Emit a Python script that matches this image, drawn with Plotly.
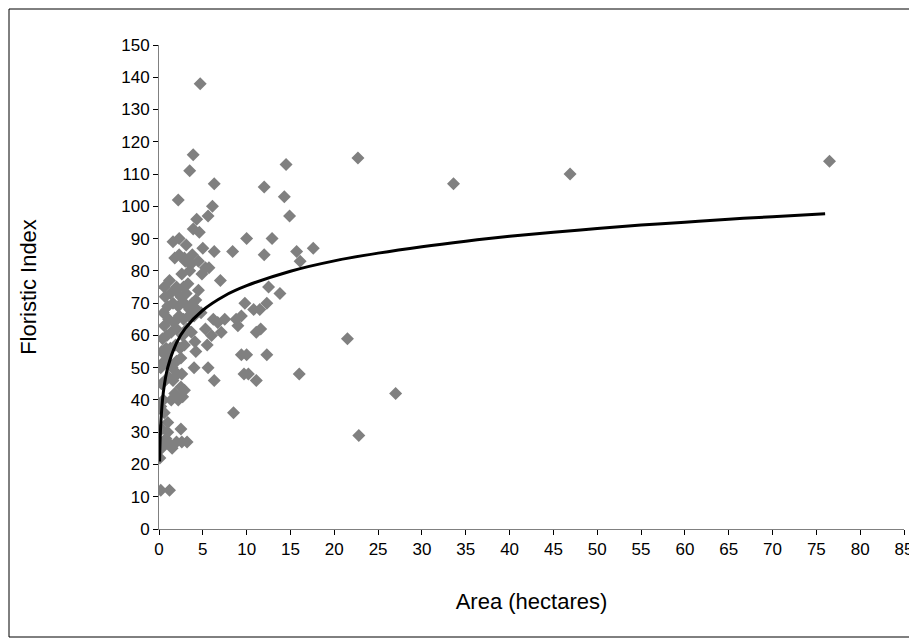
import plotly.graph_objects as go

# Observed sites: area (hectares) and floristic index
area = [4.7, 3.9, 3.5, 6.3, 2.2, 6.1, 5.6, 4.3, 3.9, 4.6, 1.6, 2.3, 3.1, 3.8, 5.0, 6.3, 8.4, 4.5, 2.9, 3.6,
        10.0, 12.9, 12.0, 14.5, 14.3, 14.9, 12.0, 15.7, 16.1, 17.6, 22.7, 33.6, 46.9, 76.5,
        12.5, 13.8, 12.3, 10.8, 11.5, 9.8, 9.4, 9.0, 11.1, 11.6, 12.3, 10.0, 9.4, 9.7, 10.2, 11.1,
        7.0, 7.5, 8.8, 7.1, 6.7, 6.0, 6.2, 6.3, 5.6, 5.5, 5.3, 4.8, 4.5, 4.9, 5.3, 5.7,
        4.0, 4.2, 4.1, 3.7, 8.5, 21.5, 16.0, 27.0, 22.8, 0.2, 1.2,
        0.1, 0.3, 0.5, 0.8, 1.3, 1.5, 2.0, 2.6, 3.2, 1.0, 2.5, 0.3, 1.0, 0.6, 0.2, 0.5, 1.4, 1.8,
        2.2, 2.7, 2.5, 2.9, 0.3, 0.7, 1.1, 1.6, 2.1, 2.6, 0.2, 0.6, 1.0, 1.5, 2.0, 2.5, 0.3, 0.8,
        1.3, 1.9, 2.4, 2.9, 0.4, 0.9, 1.4, 2.0, 2.7, 3.2, 0.6, 1.1, 1.7, 2.3, 2.8, 3.4, 0.5, 1.0,
        1.6, 2.2, 2.9, 3.5, 0.7, 1.3, 1.9, 2.5, 3.1, 0.6, 2.0, 2.8, 3.3, 1.2, 2.6, 3.5, 3.0, 2.3,
        1.8, 3.4, 0.9, 4.3, 4.0, 3.8, 4.2]
floristic_index = [138, 116, 111, 107, 102, 100, 97, 96, 93, 92, 89, 90, 88, 85, 87, 86, 86, 83, 84, 82,
                   90, 90, 106, 113, 103, 97, 85, 86, 83, 87, 115, 107, 110, 114,
                   75, 73, 70, 68, 68, 70, 66, 63, 61, 62, 54, 54, 54, 48, 48, 46,
                   77, 65, 65, 61, 64, 60, 65, 46, 50, 57, 62, 67, 74, 79, 81, 81,
                   50, 55, 58, 61, 36, 59, 48, 42, 29, 12, 12,
                   22, 25, 27, 28, 26, 25, 27, 27, 27, 30, 31, 31, 33, 36, 38, 40, 40, 42,
                   40, 41, 44, 43, 45, 46, 47, 46, 48, 48, 50, 52, 51, 50, 52, 53, 55, 56,
                   56, 57, 56, 57, 59, 60, 61, 62, 60, 62, 63, 65, 64, 66, 65, 66, 67, 69,
                   70, 69, 70, 68, 72, 73, 74, 72, 73, 75, 75, 75, 76, 77, 79, 80, 83, 85,
                   84, 83, 54, 68, 66, 70, 71]

# Logarithmic trend line
trend_area = [0.07, 0.2, 0.5, 1, 2, 3, 5, 7.5, 10, 15, 20, 25, 30, 35, 40, 45, 50, 55, 60, 65, 70, 76]
trend_index = [20.9, 32.4, 42.5, 50.1, 57.7, 62.2, 67.8, 72.3, 75.4, 79.9, 83.1, 85.5, 87.5, 89.2,
               90.7, 92.0, 93.1, 94.2, 95.1, 96.0, 96.8, 97.7]

x_ticks = list(range(0, 86, 5))
y_ticks = list(range(0, 151, 10))

fig = go.Figure()
fig.add_trace(go.Scatter(
    x=area, y=floristic_index, mode="markers",
    marker=dict(symbol="diamond", size=10, color="#808080", line=dict(width=0)),
    showlegend=False, hoverinfo="x+y"))
fig.add_trace(go.Scatter(
    x=trend_area, y=trend_index, mode="lines",
    line=dict(color="black", width=3, shape="spline"),
    showlegend=False))

font = "Liberation Sans, Arial, sans-serif"
L, R, T, B = 151, 21, 37, 120
W, H = 917, 641
pw, ph = W - L - R, H - T - B
fig.update_layout(
    width=W, height=H,
    margin=dict(l=L, r=R, t=T, b=B),
    paper_bgcolor="white", plot_bgcolor="white",
    font=dict(family=font, size=17, color="black"),
    xaxis=dict(range=[0, 85], tickvals=x_ticks, showgrid=False, zeroline=False,
               showline=True, linecolor="#808080", linewidth=1,
               ticks="outside", ticklen=5, tickcolor="black",
               tickfont=dict(size=17),
               title=dict(text="Area (hectares)", font=dict(size=22), standoff=35)),
    yaxis=dict(range=[0, 150], tickvals=y_ticks, showgrid=False, zeroline=False,
               showline=True, linecolor="#808080", linewidth=1,
               ticks="outside", ticklen=5, tickcolor="black",
               tickfont=dict(size=17),
               title=dict(text="Floristic Index", font=dict(size=22), standoff=78)),
    shapes=[dict(type="rect", xref="paper", yref="paper",
                 x0=(1 - L) / pw, x1=(905 - L) / pw,
                 y0=(H - B - 629) / ph, y1=(H - B - 1) / ph,
                 line=dict(color="black", width=1), fillcolor="rgba(0,0,0,0)", layer="below")],
)

fig.write_html("out.html")
